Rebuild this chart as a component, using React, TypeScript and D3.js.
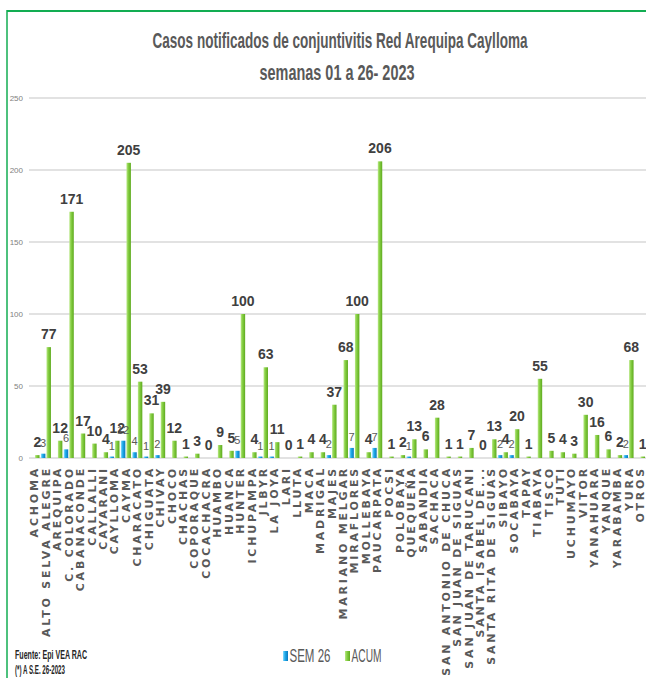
import React from "react";
import * as d3 from "d3";

const categories = [
  "ACHOMA", "ALTO SELVA ALEGRE", "AREQUIPA", "C. COLORADO", "CABANACONDE", "CALLALLI",
  "CAYARANI", "CAYLLOMA", "CAYMA", "CHARACATO", "CHIGUATA", "CHIVAY", "CHOCO", "CHACHAS",
  "COPORAQUE", "COCACHACRA", "HUAMBO", "HUANCA", "HUNTER", "ICHUPAMPA", "JLBYR", "LA JOYA",
  "LARI", "LLUTA", "MACA", "MADRIGAL", "MAJES", "MARIANO MELGAR", "MIRAFLORES", "MOLLEBAYA",
  "PAUCARPATA", "POCSI", "POLOBAYA", "QUEQUEÑA", "SABANDIA", "SACHACA", "SAN ANTONIO DE CHUCA",
  "SAN JUAN DE SIGUAS", "SAN JUAN DE TARUCANI", "SANTA ISABEL DE...", "SANTA RITA DE SIGUAS",
  "SIBAYO", "SOCABAYA", "TAPAY", "TIABAYA", "TISCO", "TUTI", "UCHUMAYO", "VITOR", "YANAHUARA",
  "YANQUE", "YARABAMBA", "YURA", "OTROS",
];

const sem26 = [
  0, 3, 0, 6, 0, 0, 0, 1, 12, 4, 1, 2, 0, 0, 0, 0, 0, 0, 5, 0, 1, 1, 0, 0, 0, 0, 2, 0, 7, 0,
  7, 0, 0, 1, 0, 0, 0, 0, 0, 0, 0, 2, 2, 0, 0, 0, 0, 0, 0, 0, 0, 0, 2, 0,
];

const acum = [
  2, 77, 12, 171, 17, 10, 4, 12, 205, 53, 31, 39, 12, 1, 3, 0, 9, 5, 100, 4, 63, 11, 0, 1, 4,
  4, 37, 68, 100, 4, 206, 1, 2, 13, 6, 28, 1, 1, 7, 0, 13, 4, 20, 1, 55, 5, 4, 3, 30, 16, 6, 2,
  68, 1,
];

const yTicks = [0, 50, 100, 150, 200, 250];

const titleLines = ["Casos notificados de conjuntivitis Red Arequipa Caylloma", "semanas 01 a 26- 2023"];
const seriesNames = ["SEM 26", "ACUM"];
const footerLines = ["Fuente: Epi VEA RAC", "(*) A S.E. 26-2023"];

const W = 646;
const H = 678;
const NARROW = "'Liberation Sans Narrow', 'Arial Narrow', 'Liberation Sans', sans-serif";

export default function App() {
  const x = d3
    .scaleBand<string>()
    .domain(categories)
    .range([28.8, 645.7])
    .paddingInner(0)
    .paddingOuter(0);
  const y = d3.scaleLinear().domain([0, 250]).range([458, 98]);
  const sub = d3.scaleBand<string>().domain(["sem", "acum"]).range([-5, 5]).paddingInner(0.2);
  const bw = sub.bandwidth();
  const cx = (c: string) => (x(c) as number) + x.bandwidth() / 2;

  return (
    <svg
      width={W}
      height={H}
      style={{ position: "absolute", left: 0, top: 0, background: "#fff" }}
      fontFamily={NARROW}
    >
      <defs>
        <linearGradient id="gGreen" x1="0" x2="1" y1="0" y2="0">
          <stop offset="0" stopColor="#b9e887" />
          <stop offset="0.4" stopColor="#86cf43" />
          <stop offset="1" stopColor="#5eaa1f" />
        </linearGradient>
        <linearGradient id="gBlue" x1="0" x2="1" y1="0" y2="0">
          <stop offset="0" stopColor="#8adcff" />
          <stop offset="0.4" stopColor="#1fabea" />
          <stop offset="1" stopColor="#0a78be" />
        </linearGradient>
      </defs>
      <rect x={0} y={0} width={W} height={H} fill="#fff" />
      {/* frame */}
      <line x1={7} x2={W} y1={11} y2={11} stroke="#12ad52" strokeWidth={2} />
      <line x1={7} x2={7} y1={10} y2={H} stroke="#12ad52" strokeWidth={1.5} />

      {/* title */}
      {titleLines.map((t, i) => (
        <text
          key={t}
          x={i === 0 ? 340 : 337}
          y={i === 0 ? 48 : 80}
          textAnchor="middle"
          fontSize={22}
          fontWeight="bold"
          fill="#595959"
          textLength={i === 0 ? 375 : 155}
          lengthAdjust="spacingAndGlyphs"
        >
          {t}
        </text>
      ))}

      {/* grid + y ticks */}
      {yTicks.map((t) => (
        <g key={t}>
          <line x1={29} x2={W} y1={y(t)} y2={y(t)} stroke="#d9d9d9" strokeWidth={1.3} />
          <text x={23} y={y(t)} dy="0.35em" textAnchor="end" fontSize={8} fill="#7f7f7f">
            {t}
          </text>
        </g>
      ))}

      {/* bars */}
      {categories.map((c, i) => {
        const c0 = cx(c);
        const xs = c0 + (sub("sem") as number);
        const xa = c0 + (sub("acum") as number);
        return (
          <g key={c}>
            {sem26[i] > 0 && (
              <rect x={xs} y={y(sem26[i])} width={bw} height={y(0) - y(sem26[i])} fill="url(#gBlue)" />
            )}
            {acum[i] > 0 && (
              <rect x={xa} y={y(acum[i])} width={bw} height={y(0) - y(acum[i])} fill="url(#gGreen)" />
            )}
          </g>
        );
      })}

      {/* labels */}
      {categories.map((c, i) => {
        const c0 = cx(c);
        const xs = c0 + (sub("sem") as number) + bw / 2;
        const xa = c0 + (sub("acum") as number) + bw / 2;
        return (
          <g key={c + "l"}>
            {sem26[i] > 0 && (
              <text x={xs} y={y(sem26[i]) - 7} textAnchor="middle" fontSize={11} fill="#595959">
                {sem26[i]}
              </text>
            )}
            <text
              x={xa}
              y={y(acum[i]) - 8}
              textAnchor="middle"
              fontSize={14}
              fontWeight="bold"
              fill="#404040"
            >
              {acum[i]}
            </text>
          </g>
        );
      })}

      {/* x labels */}
      {categories.map((c) => (
        <text
          key={c + "x"}
          transform={`translate(${cx(c)},466) rotate(-90)`}
          dy="0.36em"
          textAnchor="end"
          fontFamily="'DejaVu Sans', Verdana, sans-serif"
          fontWeight="bold"
          fontSize={11}
          letterSpacing={2.8}
          fill="#595959"
        >
          {c}
        </text>
      ))}

      {/* footer */}
      {footerLines.map((t, i) => (
        <text
          key={t}
          x={15}
          y={659 + i * 15}
          fontSize={13}
          fontWeight="bold"
          fill="#262626"
          textLength={i === 0 ? 72 : 50}
          lengthAdjust="spacingAndGlyphs"
        >
          {t}
        </text>
      ))}

      {/* legend */}
      {seriesNames.map((s, i) => {
        const lx = i === 0 ? 283 : 345;
        return (
          <g key={s}>
            <rect x={lx} y={651} width={5} height={10} fill={i === 0 ? "url(#gBlue)" : "url(#gGreen)"} />
            <text
              x={lx + 6.5}
              y={662}
              fontSize={19}
              fill="#595959"
              textLength={i === 0 ? 41 : 30}
              lengthAdjust="spacingAndGlyphs"
            >
              {s}
            </text>
          </g>
        );
      })}
    </svg>
  );
}
